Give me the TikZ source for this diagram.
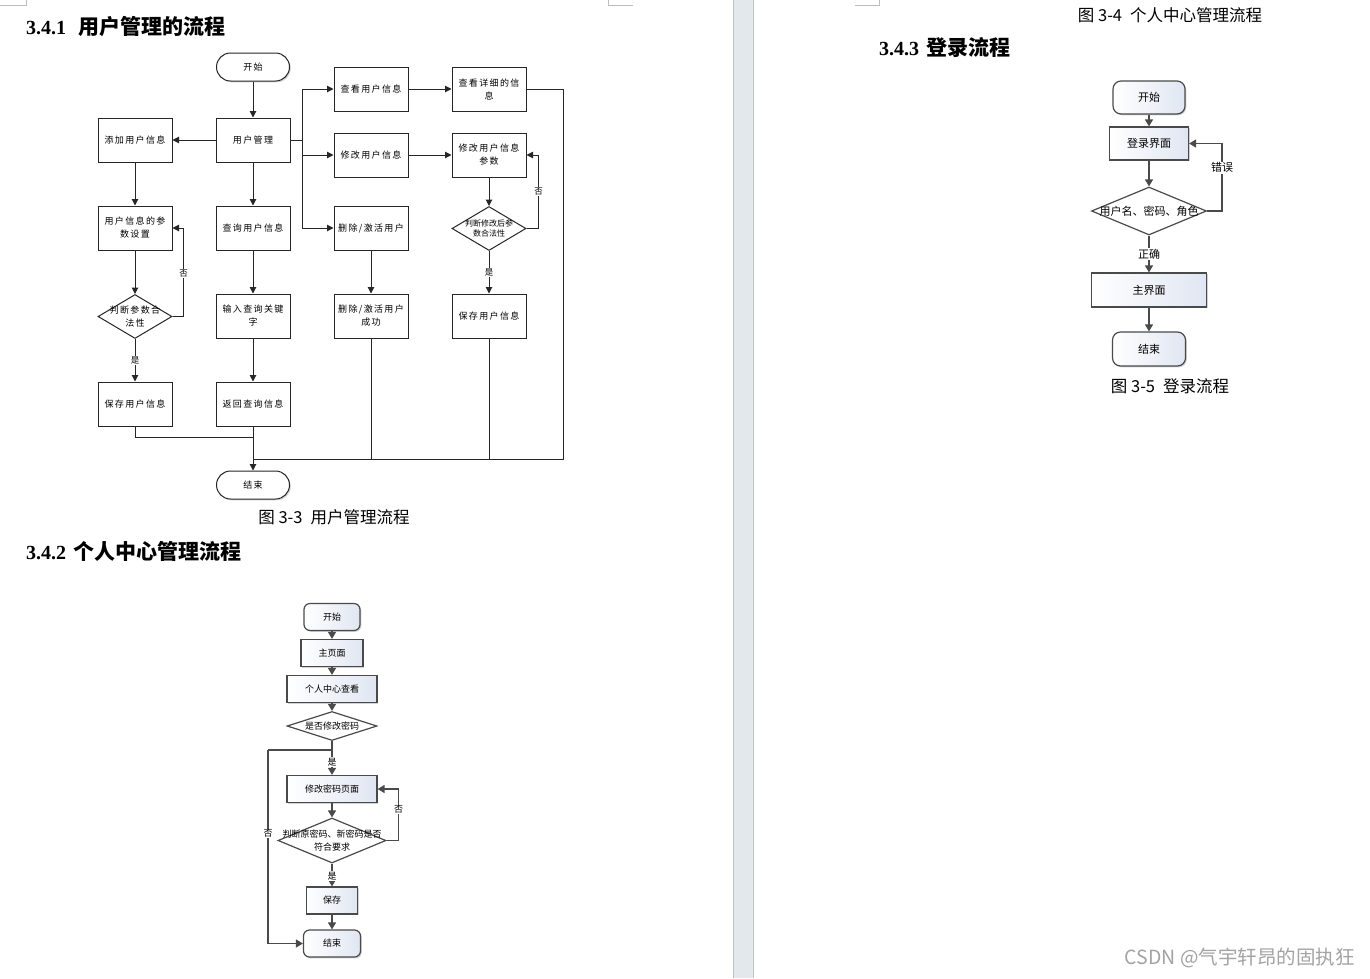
\documentclass[tikz,border=0pt]{standalone}
\usepackage{fontspec}
\setmainfont{Liberation Serif}
\newfontfamily\cjk{Noto Sans CJK SC}
\newfontfamily\cjkls{Noto Sans CJK SC}[LetterSpace=15]
\usetikzlibrary{shapes.geometric,arrows.meta,shadows}
\definecolor{divfill}{HTML}{E3E8EC}
\definecolor{divedge}{HTML}{C2C5C8}
\definecolor{grad}{HTML}{E0E6F2}
\definecolor{wm}{HTML}{A3A3A3}
\definecolor{bd}{HTML}{4A4A4A}
\definecolor{cmark}{HTML}{BDBDBD}
\newcommand\fontA{\cjkls\fontsize{9}{13}\selectfont}
\newcommand\fontAs{\cjk\fontsize{8}{10.5}\selectfont}
\newcommand\fontL{\cjk\fontsize{8.5}{9}\selectfont}
\newcommand\fontB{\cjk\fontsize{9}{12.7}\selectfont}
\newcommand\fontD{\cjk\fontsize{11}{13}\selectfont}
\newcommand\fontC{\cjk\fontsize{16.5}{18}\selectfont}
\newcommand\fontH{\fontsize{20}{22}\selectfont}
\newcommand\fontHc{\cjk\fontsize{21}{22}\selectfont\bfseries}
\begin{document}
\begin{tikzpicture}[x=1pt,y=-1pt,
  ln/.style={draw=black!85, line width=1pt},
  arA/.style={ln, -{Triangle[length=6.5pt,width=6.5pt]}},
  lnB/.style={draw=bd, line width=1.3pt},
  arB/.style={lnB, -{Triangle[length=7pt,width=8pt]}},
  shadowA/.style={drop shadow={shadow xshift=1.3pt, shadow yshift=-1.3pt, fill=black!35, opacity=0.5}},
  boxA/.style={rectangle, draw=black!85, line width=1pt, fill=white, minimum width=74pt, minimum height=44pt, inner sep=1pt, align=center, font=\fontA, shadowA},
  termA/.style={boxA, rounded corners=14pt, minimum width=73pt, minimum height=28pt},
  diaA/.style={diamond, draw=black!85, line width=1pt, fill=white, minimum width=74pt, minimum height=44pt, inner sep=0pt},
  lblA/.style={fill=white, inner sep=0.8pt, font=\fontL},
  boxB/.style={rectangle, draw=bd, line width=1.2pt, left color=white, right color=grad, inner sep=1pt, align=center, font=\fontB, shadowA},
  termB/.style={boxB, rounded corners=6pt},
  diaB/.style={diamond, draw=bd, line width=1.2pt, fill=white, inner sep=0pt},
  lblB/.style={fill=white, inner sep=0.8pt, font=\fontB},
  boxD/.style={boxB, font=\fontD},
  termD/.style={boxD, rounded corners=8pt},
  lblD/.style={fill=white, inner sep=0.8pt, font=\fontD},
  capt/.style={font=\fontC, inner sep=0pt},
  head/.style={font=\fontH, anchor=west, inner sep=0pt},
  cmk/.style={draw=cmark, line width=0.8pt}
]
\useasboundingbox (0,0) rectangle (1370,978);
\fill[white] (0,0) rectangle (1370,978);
% page divider
\fill[divfill] (733,0) rectangle (754,978);
\draw[divedge, line width=1.5pt] (733.7,0) -- (733.7,978);
\draw[divedge, line width=1pt] (753.3,0) -- (753.3,978);
% page corner marks
\draw[cmk] (0,5) -- (26,5) -- (26,0);
\draw[cmk] (608,0) -- (608,5) -- (633,5);
\draw[cmk] (855,5) -- (879,5) -- (879,0);

% headings
\node[head] (h1) at (26,27) {\bfseries 3.4.1\hspace{12pt}{\fontHc 用户管理的流程}};
\node[head] (h2) at (26,551) {\bfseries 3.4.2\hspace{7pt}{\fontHc 个人中心管理流程}};
\node[head] (h3) at (879,48) {\bfseries 3.4.3\hspace{7pt}{\fontHc 登录流程}};

% ================= Figure 3-3 =================
\node[termA] (s1) at (253,67) {开始};
\node[boxA] (um) at (253,140) {用户管理};
\node[boxA] (add) at (135,140) {添加用户信息};
\node[boxA] (par) at (135,228) {用户信息的参\\数设置};
\node[boxA] (qry) at (253,228) {查询用户信息};
\node[diaA, label={[font=\fontA, align=center]center:判断参数合\\法性}] (d1) at (135,316.5) {};
\node[boxA] (key) at (253,316) {输入查询关键\\字};
\node[boxA] (sv1) at (135,404) {保存用户信息};
\node[boxA] (ret) at (253,404) {返回查询信息};
\node[termA] (e1) at (253,485) {结束};
\node[boxA] (view) at (371,89) {查看用户信息};
\node[boxA] (mod) at (371,155) {修改用户信息};
\node[boxA] (del) at (371,228) {删除/激活用户};
\node[boxA] (dok) at (371,316) {删除/激活用户\\成功};
\node[boxA] (det) at (489,89) {查看详细的信\\息};
\node[boxA] (mpar) at (489,155) {修改用户信息\\参数};
\node[diaA, label={[font=\fontAs, align=center]center:判断修改后参\\数合法性}] (d2) at (489,228.5) {};
\node[boxA] (sv2) at (489,316) {保存用户信息};

\coordinate (br) at (302,140);
\coordinate (bus) at (253,459);
\coordinate (busr) at (563,459);
\coordinate (busl) at (253,437);

\draw[arA] (s1) -- (um);
\draw[arA] (um) -- (add);
\draw[arA] (add) -- (par);
\draw[arA] (um) -- (qry);
\draw[arA] (par) -- (d1);
\draw[arA] (qry) -- (key);
\draw[arA] (key) -- (ret);
\draw[arA] (d1) -- node[lblA] {是} (sv1);
\draw[arA] (d1.east) -- ++(11,0) |- node[lblA, pos=0.245] {否} (par.east);
\draw[ln] (um.east) -- (br);
\draw[arA] (br) |- (view.west);
\draw[arA] (br) |- (mod.west);
\draw[arA] (br) |- (del.west);
\draw[arA] (view) -- (det);
\draw[arA] (mod) -- (mpar);
\draw[arA] (mpar) -- (d2);
\draw[arA] (del) -- (dok);
\draw[arA] (d2) -- node[lblA] {是} (sv2);
\draw[arA] (d2.east) -- ++(12,0) |- node[lblA, pos=0.25] {否} (mpar.east);
\draw[arA] (ret) -- (e1);
\draw[ln] (sv1.south) |- (busl);
\draw[ln] (det.east) -| (busr) -- (bus);
\draw[ln] (dok.south) -- (dok.south |- bus);
\draw[ln] (sv2.south) -- (sv2.south |- bus);

\node[capt] (cap1) at (334,517) {图 3-3\hspace{8pt}用户管理流程};

% ================= Figure 3-4 =================
\node[termB, minimum width=56pt, minimum height=27pt] (a1) at (332,617) {开始};
\node[boxB, minimum width=62pt, minimum height=27pt] (a2) at (332,653) {主页面};
\node[boxB, minimum width=90pt, minimum height=27pt] (a3) at (332,689) {个人中心查看};
\node[diaB, minimum width=90pt, minimum height=29pt, label={[font=\fontB]center:是否修改密码}] (a4) at (332,726) {};
\node[boxB, minimum width=90pt, minimum height=27pt] (a5) at (332,789) {修改密码页面};
\node[diaB, minimum width=108pt, minimum height=45pt, label={[font=\fontB, align=center]center:判断原密码、新密码是否\\符合要求}] (a6) at (332,840.5) {};
\node[boxB, minimum width=51pt, minimum height=27pt] (a7) at (332,900.5) {保存};
\node[termB, minimum width=57pt, minimum height=27pt] (a8) at (332,943.5) {结束};

\coordinate (b2) at (332,750);
\coordinate (b2l) at (268,750);

\draw[arB] (a1) -- (a2);
\draw[arB] (a2) -- (a3);
\draw[arB] (a3) -- (a4);
\draw[arB] (a4) -- node[lblB, pos=0.62] {是} (a5);
\draw[arB] (a5) -- (a6);
\draw[arB] (a6) -- node[lblB, pos=0.55] {是} (a7);
\draw[arB] (a7) -- (a8);
\draw[arB] (a6.east) -- ++(12,0) |- node[lblB, pos=0.3] {否} (a5.east);
\draw[lnB] (b2) -- (b2l);
\draw[arB] (b2l) |- node[lblB, pos=0.215] {否} (a8.west);

\node[capt] (cap2) at (1170,15) {图 3-4\hspace{8pt}个人中心管理流程};

% ================= Figure 3-5 =================
\node[termD, minimum width=72pt, minimum height=33pt] (f1) at (1149,97.5) {开始};
\node[boxD, minimum width=79pt, minimum height=33pt] (f2) at (1149,143.5) {登录界面};
\node[diaB, minimum width=115pt, minimum height=48pt, label={[font=\fontD]center:用户名、密码、角色}] (f3) at (1149,211) {};
\node[boxD, minimum width=115pt, minimum height=34pt] (f4) at (1149,290) {主界面};
\node[termD, minimum width=73pt, minimum height=34pt] (f5) at (1149,349) {结束};

\draw[arB] (f1) -- (f2);
\draw[arB] (f2) -- (f3);
\draw[arB] (f3) -- node[lblD] {正确} (f4);
\draw[arB] (f4) -- (f5);
\draw[arB] (f3.east) -- ++(15,0) |- node[lblD, pos=0.32] {错误} (f2.east);

\node[capt] (cap3) at (1170,386) {图 3-5\hspace{8pt}登录流程};

% watermark
\node[font=\cjk\fontsize{19.5}{21}\selectfont, text=wm, anchor=east, inner sep=0pt] (wmk) at (1355,958) {CSDN @气宇轩昂的固执狂};
\end{tikzpicture}
\end{document}
